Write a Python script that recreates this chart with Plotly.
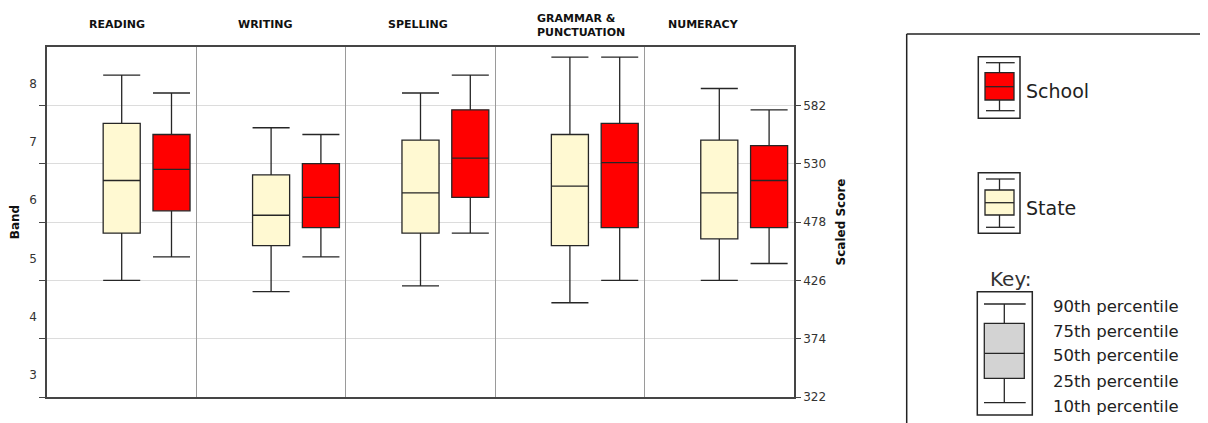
import plotly.graph_objects as go

# ---------------- data ----------------
subjects = ["READING", "WRITING", "SPELLING", "GRAMMAR &<br>PUNCTUATION", "NUMERACY"]

# State distribution (scaled scores): 10th, 25th, 50th, 75th, 90th percentiles
state_p10 = [426, 416, 421, 406, 426]
state_p25 = [468, 457, 468, 457, 463]
state_p50 = [515, 484, 504, 510, 504]
state_p75 = [566, 520, 551, 556, 551]
state_p90 = [609, 562, 593, 625, 597]

# School distribution
school_p10 = [447, 447, 468, 426, 441]
school_p25 = [488, 473, 500, 473, 473]
school_p50 = [525, 500, 535, 531, 515]
school_p75 = [556, 530, 578, 566, 546]
school_p90 = [593, 556, 609, 625, 578]

score_ticks = [322, 374, 426, 478, 530, 582]
band_labels = ["3", "4", "5", "6", "7", "8"]
key_labels = ["90th percentile", "75th percentile", "50th percentile",
              "25th percentile", "10th percentile"]

# ---------------- styling / geometry ----------------
OFF = 8                      # page body margin of the browser
FIG_W, FIG_H = 1208 - OFF, 423 - OFF
L, R, T, B = 47 - OFF, 794 - OFF, 47 - OFF, 397 - OFF
PW, PH = R - L, B - T
Y0, Y1 = 322, 634
STATE_FILL = "#FFF9D2"
SCHOOL_FILL = "#FF0000"
EDGE = "#262626"
AXIS = "#454545"

n = len(subjects)
x_state = [i for i in range(n)]
x_school = [i + 1 / 3 for i in range(n)]

fig = go.Figure()
fig.add_trace(go.Box(
    name="State", x=x_state, q1=state_p25, median=state_p50, q3=state_p75,
    lowerfence=state_p10, upperfence=state_p90, width=0.248, whiskerwidth=1,
    fillcolor=STATE_FILL, line=dict(color=EDGE, width=1.3), boxpoints=False,
    showlegend=False, hoverinfo="skip",
))
fig.add_trace(go.Box(
    name="School", x=x_school, q1=school_p25, median=school_p50, q3=school_p75,
    lowerfence=school_p10, upperfence=school_p90, width=0.248, whiskerwidth=1,
    fillcolor=SCHOOL_FILL, line=dict(color=EDGE, width=1.3), boxpoints=False,
    showlegend=False, hoverinfo="skip",
))
# invisible trace to activate the right-hand axis
fig.add_trace(go.Scatter(x=[x_state[0]], y=[score_ticks[0]], yaxis="y2",
                         mode="markers", marker=dict(opacity=0),
                         showlegend=False, hoverinfo="skip"))

step = score_ticks[1] - score_ticks[0]
band_pos = [score_ticks[0] + 19.5 + step * k for k in range(len(band_labels))]

fig.update_layout(
    width=FIG_W, height=FIG_H,
    margin=dict(l=L, r=FIG_W - R, t=T, b=FIG_H - B, pad=0, autoexpand=False),
    paper_bgcolor="white", plot_bgcolor="white",
    font=dict(family="DejaVu Sans", size=12, color="#333333"),
    xaxis=dict(range=[-0.5, n - 0.5], tickmode="array", automargin=False,
               tickvals=[i + 0.5 for i in range(n - 1)],
               showticklabels=False, ticks="", showgrid=True,
               gridcolor="#9a9a9a", gridwidth=1.2, zeroline=False,
               showline=True, linecolor=AXIS, linewidth=1.5, mirror=True),
    yaxis=dict(range=[Y0, Y1], tickmode="array", tickvals=band_pos,
               automargin=False,
               ticktext=band_labels, ticks="outside", ticklen=6,
               tickcolor="rgba(0,0,0,0)", showgrid=False, zeroline=False,
               showline=True, linecolor=AXIS, linewidth=1.5,
               tickfont=dict(size=12, color="#333333"),
               minor=dict(tickmode="array", tickvals=score_ticks,
                          ticks="outside", ticklen=6, tickcolor=AXIS,
                          tickwidth=1.3, showgrid=True, gridcolor="#dcdcdc",
                          gridwidth=1.2),
               title=dict(text="<b>Band</b>", standoff=11,
                          font=dict(size=12, color="#111111"))),
    yaxis2=dict(range=[Y0, Y1], overlaying="y", side="right",
                automargin=False,
                tickmode="array", tickvals=score_ticks, ticks="outside",
                ticklen=5, tickcolor=AXIS, tickwidth=1.3, showgrid=False,
                zeroline=False, showline=True, linecolor=AXIS, linewidth=1.5,
                tickfont=dict(size=12, color="#333333"),
                title=dict(text="<b>Scaled Score</b>", standoff=12,
                           font=dict(size=12, color="#111111"))),
)

# panel titles
title_dx = [0.266, 0.263, 0.269, 0.266, 0.141]
for i, s in enumerate(subjects):
    two = "<br>" in s
    fig.add_annotation(x=i - 0.5 + title_dx[i], xref="x", xanchor="left",
                       y=(B - ((26 if two else 24) - OFF)) / PH, yref="paper",
                       yanchor="middle", text="<b>" + s + "</b>", align="left",
                       showarrow=False,
                       font=dict(family="DejaVu Sans", size=11, color="#111111"))


# ---------------- custom legend / key (decoration) ----------------
# coordinates below are given in page pixels and shifted by the body margin
def px(x):
    return (x - OFF - L) / PW


def py(y):
    return (B - (y - OFF)) / PH


def line(x0, y0, x1, y1, w=1.3, c=EDGE):
    fig.add_shape(type="line", xref="paper", yref="paper",
                  x0=px(x0), y0=py(y0), x1=px(x1), y1=py(y1),
                  line=dict(color=c, width=w))


def rect(x0, y0, x1, y1, fill="rgba(0,0,0,0)", w=1.3, c=EDGE):
    fig.add_shape(type="rect", xref="paper", yref="paper",
                  x0=px(x0), y0=py(y0), x1=px(x1), y1=py(y1),
                  fillcolor=fill, line=dict(color=c, width=w))


def icon(ox0, oy0, ox1, oy1, cap_t, box_t, med, box_b, cap_b, bx0, bx1, cx0, cx1, fill):
    rect(ox0, oy0, ox1, oy1, w=1.5)
    mid = (bx0 + bx1) / 2
    line(mid, cap_t, mid, box_t)
    line(mid, box_b, mid, cap_b)
    line(cx0, cap_t, cx1, cap_t)
    line(cx0, cap_b, cx1, cap_b)
    rect(bx0, box_t, bx1, box_b, fill=fill)
    line(bx0, med, bx1, med)


# frame of the legend panel
line(906.7, 423, 906.7, 34, w=1.5, c="#222222")
line(906.7, 34, 1208, 34, w=1.5, c="#222222")

icon(978.3, 56.7, 1020, 118.3, 62.7, 72.7, 86.7, 100, 110.7, 985, 1014, 986, 1014.7, SCHOOL_FILL)
icon(978.3, 172.7, 1020, 233.3, 179, 190, 202.7, 215, 227.3, 985, 1014, 986, 1014.7, STATE_FILL)
icon(977.3, 291.7, 1032.3, 415, 304, 323.3, 353.3, 378.3, 402.7, 984.3, 1024.3, 984, 1025.7, "#D3D3D3")

legend_font = dict(family="DejaVu Sans", size=19, color="#222222")
fig.add_annotation(x=px(1024), y=py(90.7), xref="paper", yref="paper",
                   xanchor="left", yanchor="middle", text="School",
                   showarrow=False, font=legend_font)
fig.add_annotation(x=px(1024), y=py(208.3), xref="paper", yref="paper",
                   xanchor="left", yanchor="middle", text="State",
                   showarrow=False, font=legend_font)
fig.add_annotation(x=px(1011), y=py(279.3), xref="paper", yref="paper",
                   xanchor="center", yanchor="middle", text="Key:",
                   showarrow=False, font=dict(family="DejaVu Sans", size=20, color="#333333"))
for lab, yy in zip(key_labels, [306, 331.7, 355, 381.7, 406.7]):
    fig.add_annotation(x=px(1050.7), y=py(yy), xref="paper", yref="paper",
                       xanchor="left", yanchor="middle", text=lab,
                       showarrow=False,
                       font=dict(family="DejaVu Sans", size=16.5, color="#222222"))

fig.write_html("out.html")
